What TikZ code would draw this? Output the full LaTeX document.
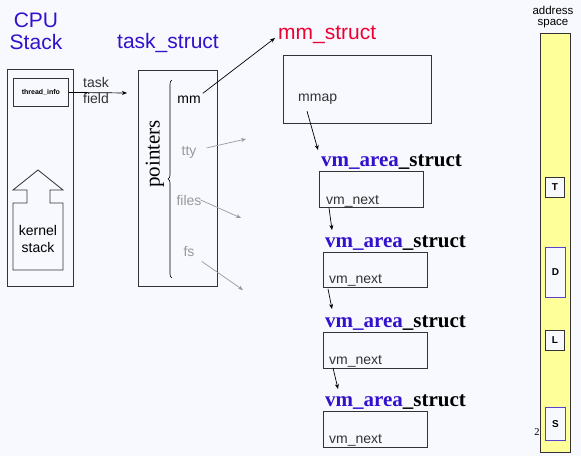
\documentclass[tikz,border=0pt]{standalone}
\usepackage{fontspec}
\setmainfont{Liberation Serif}
\setsansfont{Liberation Sans}
\usetikzlibrary{
  arrows.meta,
  positioning,
  calc,
  decorations.pathreplacing
}
\definecolor{ksBlue}{HTML}{3311CC}
\definecolor{ksRed}{HTML}{EE0033}
\definecolor{ksGray}{HTML}{999999}
\definecolor{ksText}{HTML}{333333}
\definecolor{ksLine}{HTML}{333333}
\definecolor{ksBack}{HTML}{F8F9FE}
\definecolor{ksYellow}{HTML}{FFFF99}
\definecolor{ksSegBlue}{HTML}{5544CC}
\tikzset{
  ksbox/.style={draw=ksLine, line width=0.8pt, inner sep=0pt, anchor=north west},
  ksline/.style={draw=ksLine, line width=0.8pt},
  title/.style={font=\sffamily\fontsize{21}{22}\selectfont, text=ksBlue, inner sep=1pt},
  plain/.style={font=\sffamily\fontsize{14}{17}\selectfont, text=black, inner sep=0pt},
  field/.style={font=\sffamily\fontsize{14}{16}\selectfont, text=black, inner sep=2pt, anchor=base},
  small/.style={font=\sffamily\fontsize{14}{16}\selectfont, text=ksText, inner sep=1pt, anchor=base west},
  vmlabel/.style={font=\rmfamily\bfseries\fontsize{21}{22}\selectfont, inner sep=1pt, anchor=base west},
  seg/.style={ksbox, fill=ksBack, font=\sffamily\bfseries\fontsize{10}{10}\selectfont},
  link/.style={-{Stealth[length=5pt, width=4pt]}, line width=0.7pt, black},
  greylink/.style={-{Stealth[length=5pt, width=4pt]}, line width=0.7pt, ksGray}
}

\begin{document}
\begin{tikzpicture}[x=1pt, y=-1pt]
  \fill[ksBack] (0,0) rectangle (581,456);
  \useasboundingbox (0,0) rectangle (581,456);
  % CPU stack
  \node[title, align=center] (cputitle) at (36,31) {CPU\\Stack};
  \node[ksbox, minimum width=66, minimum height=217] (cpu) at (7,69) {};
  \node[ksbox, minimum width=55, minimum height=28, font=\sffamily\bfseries\fontsize{7}{8}\selectfont] (tinfo) at (13,78) {thread\_info};
  \draw[ksline] (13,190) -- (38,170) -- (63,190) -- (50,190) -- (50,203) -- (63,203) -- (63,270) -- (13,270) -- (13,203) -- (27,203) -- (27,190) -- cycle;
  \node[plain, align=center] (kstack) at (38,239) {kernel\\stack};
  \node[plain, text=ksText, align=left, anchor=west, font=\sffamily\fontsize{14}{16}\selectfont] (taskfield) at (83,90) {task\\field};
  \coordinate (taskin) at (127,93);
  \draw[link] (tinfo.east) -- (taskin);
  % task_struct
  \node[title, anchor=base] (tasktitle) at (168,48) {task\_struct};
  \node[ksbox, minimum width=79, minimum height=216] (task) at (138,70) {};
  \draw[draw=black, line width=0.6pt, decorate, decoration={brace, amplitude=4pt}] (172,278) -- (172,80);
  \node[rotate=90, inner sep=0pt, font=\rmfamily\fontsize{21}{22}\selectfont] (ptrs) at (155,154) {pointers};
  \node[field] (mm) at (189,103) {mm};
  \node[field, text=ksGray] (tty) at (189,155) {tty};
  \node[field, text=ksGray] (files) at (189,205) {files};
  \node[field, text=ksGray] (fs) at (189,256) {fs};
  \coordinate (ttyto) at (246,139);
  \coordinate (filesto) at (241,218);
  \coordinate (fsto) at (243,290);
  \draw[greylink] ($(tty.east)+(8,-4)$) -- (ttyto);
  \draw[greylink] ($(files.east)+(-3,0)$) -- (filesto);
  \draw[greylink] ($(fs.south east)+(5,3)$) -- (fsto);
  % mm_struct
  \node[title, text=ksRed, anchor=base west] (mmtitle) at (277,39) {mm\_struct};
  \draw[link] (mm.north east) -- ($(mmtitle.base west)+(-2,-1)$);
  \node[ksbox, minimum width=148, minimum height=68] (mmbox) at (283,55) {};
  \node[small] (mmap) at (297,101) {mmap};
  % vm_area_struct chain
  \node[ksbox, minimum width=104, minimum height=36] (vm1) at (319,171) {};
  \node[vmlabel] (vmlbl1) at ($(vm1.north west)+(1,-5)$) {{\color{ksBlue}vm\_area}\_struct};
  \node[small] (vmnext1) at ($(vm1.south west)+(6,-3)$) {vm\_next};
  \node[ksbox, minimum width=104, minimum height=35] (vm2) at (323,252) {};
  \node[vmlabel] (vmlbl2) at ($(vm2.north west)+(1,-5)$) {{\color{ksBlue}vm\_area}\_struct};
  \node[small] (vmnext2) at ($(vm2.south west)+(5,-4)$) {vm\_next};
  \node[ksbox, minimum width=104, minimum height=36] (vm3) at (323,332) {};
  \node[vmlabel] (vmlbl3) at ($(vm3.north west)+(1,-5)$) {{\color{ksBlue}vm\_area}\_struct};
  \node[small] (vmnext3) at ($(vm3.south west)+(5,-4)$) {vm\_next};
  \node[ksbox, minimum width=104, minimum height=36] (vm4) at (323,411) {};
  \node[vmlabel] (vmlbl4) at ($(vm4.north west)+(1,-5)$) {{\color{ksBlue}vm\_area}\_struct};
  \node[small] (vmnext4) at ($(vm4.south west)+(5,-4)$) {vm\_next};
  \draw[link] ($(mmap.south west)+(10,6)$) -- ($(vmlbl1.north west)+(-2,-3)$);
  \draw[link] ($(vm1.south west)+(10,0)$) -- ($(vmlbl2.north west)+(8,-4)$);
  \draw[link] ($(vm2.south west)+(5,1)$) -- ($(vmlbl3.north west)+(8,-5)$);
  \draw[link] ($(vm3.south west)+(10,-1)$) -- ($(vmlbl4.north west)+(14,-4)$);
  % address space
  \node[plain, align=center, font=\sffamily\fontsize{11.5}{10.5}\selectfont] (astitle) at (553,17) {address\\space};
  \node[ksbox, fill=ksYellow, minimum width=30, minimum height=419] (aspace) at (540,33) {};
  \node[seg, minimum width=19, minimum height=20] (segT) at (545,177) {T};
  \node[seg, draw=ksSegBlue, minimum width=20, minimum height=50] (segD) at (545,247) {D};
  \node[seg, minimum width=19, minimum height=20] (segL) at (545,330) {L};
  \node[seg, draw=ksSegBlue, minimum width=20, minimum height=33] (segS) at (545,407) {S};
  \node[inner sep=0pt, anchor=base, font=\rmfamily\fontsize{10.5}{11}\selectfont] (slideno) at (537,435) {2};
\end{tikzpicture}
\end{document}
